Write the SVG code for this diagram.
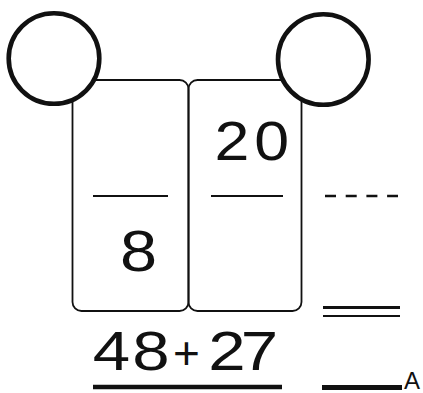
<svg xmlns="http://www.w3.org/2000/svg" width="423" height="393" viewBox="0 0 423 393">
<style>
.box{fill:none;stroke:#111;stroke-width:1.8}
.circ{fill:#fff;stroke:#111;stroke-width:4.6}
.ln{stroke:#111;fill:none}
.t{font-family:"Liberation Sans",Arial,sans-serif;fill:#111;text-anchor:middle}
</style>
<rect width="423" height="393" fill="#fff"/>
<g id="box-ones">
<rect class="box" x="72.5" y="80" width="116" height="231" rx="9"/>
<line class="ln" x1="93" y1="196" x2="168" y2="196" stroke-width="2.2"/>
<text class="t" x="138.5" y="271" font-size="58" transform="matrix(1.15 0 0 1 -20.8 0)">8</text>
</g>
<g id="box-tens">
<rect class="box" x="188.5" y="80" width="113" height="231" rx="9"/>
<line class="ln" x1="211" y1="196" x2="283" y2="196" stroke-width="2.2"/>
<text class="t" font-size="56" y="160" transform="matrix(1.12 0 0 1 -26 0)"><tspan x="230.4">2</tspan><tspan x="265.8">0</tspan></text>
</g>
<g id="circle-left"><circle class="circ" cx="54" cy="58.5" r="45.3"/></g>
<g id="circle-right"><circle class="circ" cx="323.3" cy="59.5" r="45.3"/></g>
<g id="answer-marks">
<line class="ln" x1="325" y1="196" x2="398" y2="196" stroke-width="2.6" stroke-dasharray="11 9.7"/>
<line class="ln" x1="323" y1="307.5" x2="400" y2="307.5" stroke-width="3"/>
<line class="ln" x1="323" y1="316" x2="400" y2="316" stroke-width="2"/>
<line class="ln" x1="322" y1="387.5" x2="402" y2="387.5" stroke-width="5"/>
<text class="t" x="412" y="389" font-size="24">A</text>
</g>
<g id="problem">
<text class="t" font-size="56" y="370" transform="matrix(1.2 0 0 1 -37 0)"><tspan x="123.75">4</tspan><tspan x="156.67">8</tspan></text>
<text class="t" font-size="46" x="186.5" y="369">+</text>
<text class="t" font-size="56" y="370" transform="matrix(1.2 0 0 1 -37 0)"><tspan x="220">2</tspan><tspan x="247.08">7</tspan></text>
<line class="ln" x1="93" y1="387" x2="282" y2="387" stroke-width="4.5"/>
</g>
</svg>
